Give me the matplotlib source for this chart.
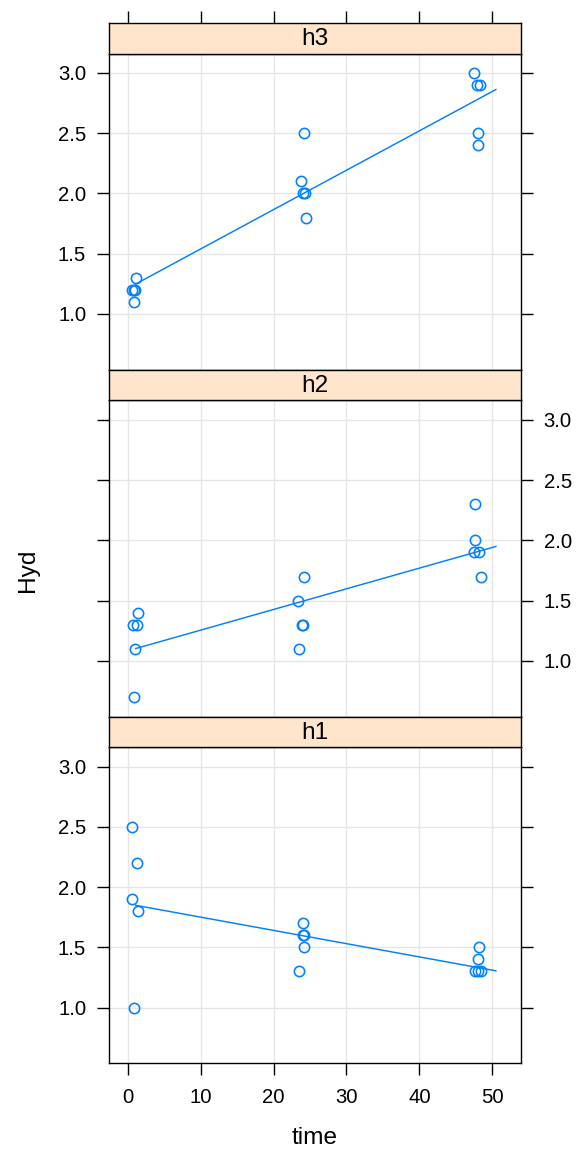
import numpy as np
import matplotlib
matplotlib.use("Agg")
import matplotlib.pyplot as plt

plt.rcParams['font.family'] = ['Liberation Sans', 'DejaVu Sans']

# ---------------- data ----------------
panel_names = ["h3", "h2", "h1"]

h3_time = [1.1, 0.6, 0.8, 1.0, 0.85, 24.2, 23.8, 24.0, 24.3, 24.4, 47.5, 47.9, 48.3, 48.0, 48.0]
h3_hyd = [1.3, 1.2, 1.2, 1.2, 1.1, 2.5, 2.1, 2.0, 2.0, 1.8, 3.0, 2.9, 2.9, 2.5, 2.4]

h2_time = [1.37, 0.77, 1.23, 1.0, 0.91, 24.2, 23.4, 23.9, 24.1, 23.5, 47.7, 47.7, 47.5, 48.2, 48.4]
h2_hyd = [1.4, 1.3, 1.3, 1.1, 0.7, 1.7, 1.5, 1.3, 1.3, 1.1, 2.3, 2.0, 1.9, 1.9, 1.7]

h1_time = [0.59, 1.23, 0.59, 1.37, 0.91, 24.1, 24.0, 24.2, 24.2, 23.5, 48.2, 48.0, 47.7, 48.05, 48.4]
h1_hyd = [2.5, 2.2, 1.9, 1.8, 1.0, 1.7, 1.6, 1.6, 1.5, 1.3, 1.5, 1.4, 1.3, 1.3, 1.3]

fit_span = [1.1, 50.5]

x_ticks = [0, 10, 20, 30, 40, 50]
y_ticks = [1.0, 1.5, 2.0, 2.5, 3.0]
y_tick_labels = ["1.0", "1.5", "2.0", "2.5", "3.0"]
x_label = "time"
y_label = "Hyd"

series = {"h3": (h3_time, h3_hyd), "h2": (h2_time, h2_hyd), "h1": (h1_time, h1_hyd)}

# ---------------- layout ----------------
W, H = 579, 1151
DPI = 100
fig = plt.figure(figsize=(W / DPI, H / DPI), dpi=DPI)

LEFT, RIGHT = 109.3, 520.7
strip_tops = [23.0, 370.0, 716.7]
STRIP_H = 30.5
PANEL_H = 316.0

xlim = (-2.52, 53.9)
ylim = (0.539, 3.161)

BLUE = "#0080ff"
STRIP_BG = "#ffe5cc"
GRID = "#e6e6e6"
TICK_FS = 14.6
LAB_FS = 17.6
TICK_LEN = 8.6
SPINE_W = 1.0


def frac(x0, y0, w, h):
    return [x0 / W, 1 - (y0 + h) / H, w / W, h / H]


for i, name in enumerate(panel_names):
    st = strip_tops[i]
    p_top = st + STRIP_H
    ax = fig.add_axes(frac(LEFT, p_top, RIGHT - LEFT, PANEL_H))
    sax = fig.add_axes(frac(LEFT, st, RIGHT - LEFT, STRIP_H))

    x, y = series[name]
    x = np.asarray(x)
    y = np.asarray(y)

    ax.set_xlim(*xlim)
    ax.set_ylim(*ylim)
    ax.set_xticks(x_ticks)
    ax.set_yticks(y_ticks)
    ax.set_yticklabels(y_tick_labels)
    ax.grid(True, color=GRID, lw=1.0)
    ax.set_axisbelow(True)

    ax.plot(x, y, linestyle="none", marker="o", markersize=7.4,
            markerfacecolor="none", markeredgecolor=BLUE, markeredgewidth=1.15, zorder=3)
    slope, intercept = np.polyfit(x, y, 1)
    xs = np.array(fit_span)
    ax.plot(xs, intercept + slope * xs, color=BLUE, lw=1.05, zorder=3)

    for s in ax.spines.values():
        s.set_linewidth(SPINE_W)
        s.set_color("black")

    ax.tick_params(axis="both", direction="out", length=TICK_LEN, width=SPINE_W,
                   labelsize=TICK_FS, colors="black")
    ax.tick_params(axis="y", left=True, right=True, pad=8.0)
    if name == "h2":
        ax.tick_params(axis="y", labelleft=False, labelright=True)
    else:
        ax.tick_params(axis="y", labelleft=True, labelright=False)
    if name == "h1":
        ax.tick_params(axis="x", bottom=True, labelbottom=True, top=False, pad=9.5)
    else:
        ax.tick_params(axis="x", bottom=False, labelbottom=False, top=False)

    # strip
    sax.set_facecolor(STRIP_BG)
    sax.set_xlim(*xlim)
    sax.set_yticks([])
    for s in sax.spines.values():
        s.set_linewidth(SPINE_W)
        s.set_color("black")
    if name == "h3":
        sax.set_xticks(x_ticks)
        sax.tick_params(axis="x", direction="out", length=TICK_LEN, width=SPINE_W,
                        bottom=False, labelbottom=False, top=True, labeltop=False)
    else:
        sax.set_xticks([])
    sax.text(0.5, 0.47, name, transform=sax.transAxes, ha="center", va="center",
             fontsize=LAB_FS, color="black")
    sax.set_zorder(ax.get_zorder() + 1)

fig.text(0.5 * (LEFT + RIGHT) / W, 1 - 1138 / H, x_label, ha="center", va="center",
         fontsize=LAB_FS)
fig.text(28 / W, 1 - 570 / H, y_label, ha="center", va="center", rotation=90,
         fontsize=LAB_FS)

fig.savefig("out.png", dpi=DPI)
